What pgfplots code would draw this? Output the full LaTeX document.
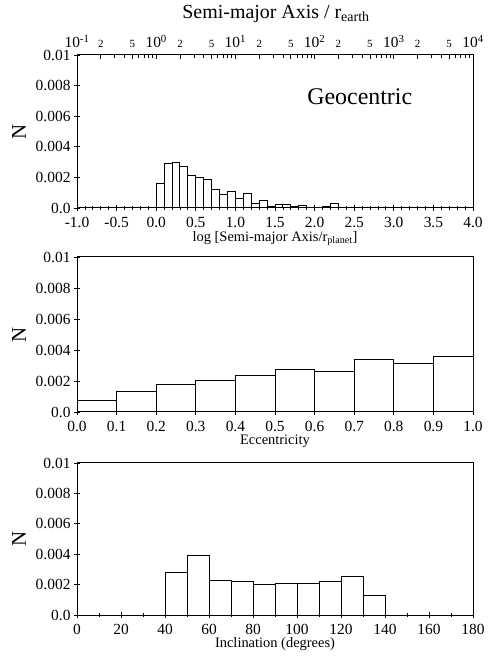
\documentclass[border=0pt]{standalone}
\usepackage{fontspec}
\setmainfont{Liberation Serif}
\usepackage{pgfplots}
\pgfplotsset{compat=1.18}
\newcommand\fs[1]{\fontsize{#1}{#1}\selectfont}
\pgfplotsset{
  panel/.style={
    scale only axis, width=396bp, anchor=south west,
    axis line style={line width=1bp},
    every tick/.style={black, line width=0.8bp},
    tick align=center,
    major tick length=6bp, minor tick length=4.5bp,
    xtick pos=left, ytick pos=left,
    ymin=0, ymax=0.01,
    ytick={0,0.002,0.004,0.006,0.008,0.01},
    yticklabels={0.0,0.002,0.004,0.006,0.008,0.01},
    scaled y ticks=false, scaled x ticks=false,
    tick label style={font=\fs{15.5}},
    xticklabel style={yshift=-2.5bp},
    /pgf/number format/assume math mode=true,
    ylabel={N}, ylabel style={font=\fs{21}, yshift=3bp},
    xlabel style={font=\fs{14.5}, inner sep=1bp, yshift=1bp},
  },
  bars/.style={ybar interval, fill=white, draw=black, line width=1bp},
}
\begin{document}
\begin{tikzpicture}
\useasboundingbox (0,0) rectangle (490bp,656bp);
\node[font=\fs{20}] at (276bp,642bp) {Semi-major Axis / r\textsubscript{earth}};

% Panel 1
\begin{axis}[panel, height=153bp, at={(77bp,448bp)},
  xmin=-1, xmax=4,
  xtick={-1,-0.5,0,0.5,1,1.5,2,2.5,3,3.5,4},
  xticklabels={-1.0,-0.5,0.0,0.5,1.0,1.5,2.0,2.5,3.0,3.5,4.0},
  minor x tick num=4,
  xlabel={log [Semi-major Axis/r\textsubscript{planet}]}]
\addplot[bars] coordinates {
(0.0,0.0016)(0.1,0.0029)(0.2,0.0030)(0.3,0.0027)(0.4,0.0021)(0.5,0.0020)
(0.6,0.00185)(0.7,0.0012)(0.8,0.00085)(0.9,0.00105)(1.0,0.0006)(1.1,0.00095)
(1.2,0.0003)(1.3,0.0005)(1.4,0.0001)(1.5,0.0002)(1.6,0.00025)(1.7,0.00008)
(1.8,0.00015)(1.9,0)(2.0,0)(2.1,0.00008)(2.2,0.0003)(2.3,0)};
\node[font=\fs{24}] at (axis cs:2.57,0.00725) {Geocentric};
\end{axis}

% Top log axis of panel 1
\begin{axis}[scale only axis, width=396bp, height=153bp, at={(77bp,448bp)},
  anchor=south west, xmin=-1, xmax=4, ymin=0, ymax=1,
  axis x line*=top, axis y line=none,
  axis line style={line width=1bp},
  every tick/.style={black, line width=0.8bp},
  tick align=inside, major tick length=4bp, minor tick length=3bp,
  xtick={-1,-0.69897,-0.30103,0,0.30103,0.69897,1,1.30103,1.69897,2,2.30103,2.69897,3,3.30103,3.69897,4},
  xticklabels={10\textsuperscript{-1},{\fs{11}2},{\fs{11}5},
               10\textsuperscript{0},{\fs{11}2},{\fs{11}5},
               10\textsuperscript{1},{\fs{11}2},{\fs{11}5},
               10\textsuperscript{2},{\fs{11}2},{\fs{11}5},
               10\textsuperscript{3},{\fs{11}2},{\fs{11}5},
               10\textsuperscript{4}},
  minor xtick={-0.52288,-0.39794,-0.22185,-0.15490,-0.09691,-0.04576,
               0.47712,0.60206,0.77815,0.84510,0.90309,0.95424,
               1.47712,1.60206,1.77815,1.84510,1.90309,1.95424,
               2.47712,2.60206,2.77815,2.84510,2.90309,2.95424,
               3.47712,3.60206,3.77815,3.84510,3.90309,3.95424},
  xticklabel style={font=\fs{15.5}, anchor=base, yshift=7bp}]
\addplot[draw=none] coordinates {(0,0.5)};
\end{axis}

% Panel 2
\begin{axis}[panel, height=155bp, at={(77bp,244bp)},
  xmin=0, xmax=1,
  xtick={0,0.1,...,1.0},
  xticklabels={0.0,0.1,0.2,0.3,0.4,0.5,0.6,0.7,0.8,0.9,1.0},
  xlabel={Eccentricity}]
\addplot[bars] coordinates {
(0.0,0.00075)(0.1,0.00135)(0.2,0.0018)(0.3,0.0020)(0.4,0.00235)(0.5,0.00275)
(0.6,0.0026)(0.7,0.0034)(0.8,0.0031)(0.9,0.0036)(1.0,0)};
\end{axis}

% Panel 3
\begin{axis}[panel, height=152bp, at={(77bp,41bp)},
  xmin=0, xmax=180,
  xtick={0,20,...,180},
  xticklabels={0,20,40,60,80,100,120,140,160,180},
  minor x tick num=1,
  xlabel={Inclination (degrees)}]
\addplot[bars] coordinates {
(40,0.0028)(50,0.0039)(60,0.00228)(70,0.00218)(80,0.0020)(90,0.00205)
(100,0.00205)(110,0.0022)(120,0.00252)(130,0.00125)(140,0)};
\end{axis}
\end{tikzpicture}
\end{document}
